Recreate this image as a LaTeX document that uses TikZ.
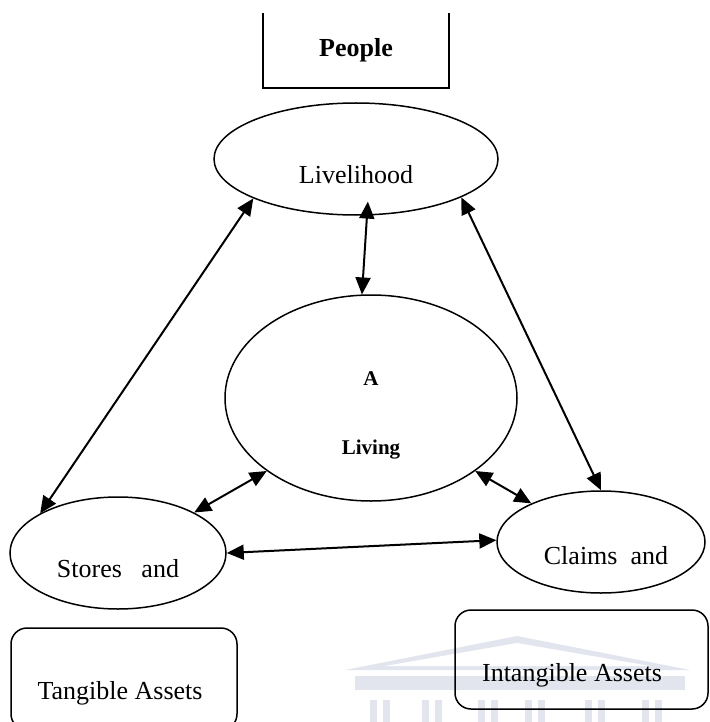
\documentclass[tikz,border=0pt]{standalone}
\usepackage{fontspec}
\setmainfont{Liberation Serif}
\usetikzlibrary{arrows.meta,shapes.geometric}
\definecolor{wmc}{RGB}{226,229,238}
\begin{document}
\begin{tikzpicture}[x=1pt,y=-1pt,
  ell/.style={draw, ellipse, line width=1.5pt, inner sep=0pt},
  lbl/.style={anchor=base, inner sep=0pt, font=\fontsize{26}{30}\selectfont},
  blbl/.style={anchor=base, inner sep=0pt, font=\fontsize{21}{25}\selectfont\bfseries},
  dbl/.style={{Triangle[length=17pt,width=15pt]}-{Triangle[length=17pt,width=15pt]}, line width=2pt},
  abox/.style={draw, rounded corners=16pt, line width=1.5pt, inner sep=0pt},
  wm/.style={fill=wmc, draw=none}
]
\useasboundingbox (0,0) rectangle (709,722);
\clip (0,0) rectangle (709,722);
% faint watermark
\fill[wm] (345,670) -- (517,636) -- (690,670) -- cycle;
\fill[white] (385,666) -- (517,643) -- (650,666) -- cycle;
\fill[wm] (355,676) rectangle (685,690);
\foreach \c in {380,432,488,535,595,652}{
  \fill[wm] (\c-10,700) rectangle (\c-3,722);
  \fill[wm] (\c+3,700) rectangle (\c+10,722);
}
% People
\node[minimum width=186pt, minimum height=75pt, inner sep=0pt] (ppl) at (356,50.5) {};
\node[anchor=base, inner sep=0pt, font=\fontsize{26}{30}\selectfont\bfseries] (pplt) at (356,57) {People};
\draw[line width=1.5pt] (ppl.north west) -- (ppl.south west) -- (ppl.south east) -- (ppl.north east);
% Livelihood
\node[ell, minimum width=284pt, minimum height=112pt] (liv) at (356,159) {};
\node[lbl] (livt) at (356,183) {Livelihood};
% A Living
\node[ell, minimum width=292pt, minimum height=206pt] (aliv) at (371,398) {};
\node[blbl] (at) at (371,385) {A};
\node[blbl] (lt) at (371,454) {Living};
% Stores
\node[ell, minimum width=216pt, minimum height=112pt] (sto) at (118,553) {};
\node[lbl] (stot) at (118,577) {Stores\ \ \ and};
% Claims
\node[ell, minimum width=208pt, minimum height=102pt] (cla) at (601,542) {};
\node[lbl] (clat) at (606,564) {Claims\ \ and};
% boxes
\node[abox, minimum width=226pt, minimum height=102pt] (tang) at (124,679) {};
\node[lbl] (tangt) at (120,699) {Tangible Assets};
\node[abox, minimum width=253pt, minimum height=99pt] (intang) at (581.5,659.5) {};
\node[lbl] (intangt) at (572,681) {Intangible Assets};
% connectors
\draw[dbl] (liv.201) -- (sto.153);
\draw[dbl, shorten <=-14pt] (liv.281) -- (aliv.95);
\draw[dbl] (liv.340) -- (cla.90);
\draw[dbl] (aliv.215) -- (sto.28);
\draw[dbl] (aliv.325) -- (cla.151);
\draw[dbl] (sto.0) -- (cla.179);
\end{tikzpicture}
\end{document}
